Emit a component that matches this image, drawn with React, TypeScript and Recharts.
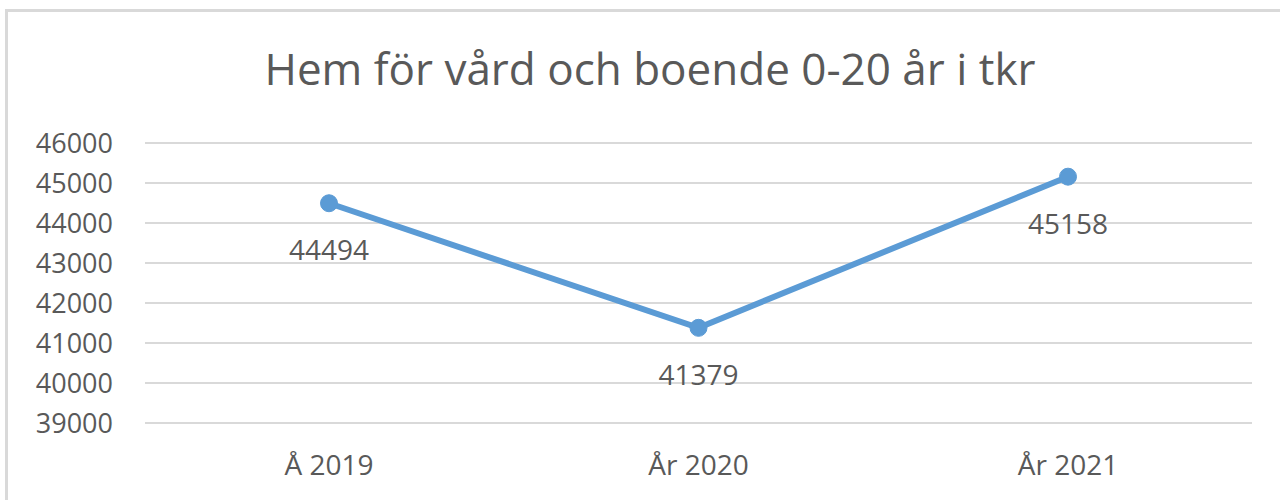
import React from "react";
import { LineChart, Line, XAxis, YAxis, CartesianGrid, LabelList } from "recharts";

const categories = ["Å 2019", "År 2020", "År 2021"];
const values = [44494, 41379, 45158];
const yTicks = [39000, 40000, 41000, 42000, 43000, 44000, 45000, 46000];
const title = "Hem för vård och boende 0-20 år i tkr";

const data = categories.map((c, i) => ({ name: c, value: values[i] }));

const FONT = "'Open Sans', 'Noto Sans', sans-serif";
const TEXT = "#595959";

export default function App() {
  return (
    <div style={{ position: "absolute", left: 0, top: 0, width: 1280, height: 500, background: "#fff", overflow: "hidden" }}>
      <div style={{ position: "absolute", left: 5, top: 9, width: 1300, height: 520, borderLeft: "3px solid #D9D9D9", borderTop: "3px solid #D9D9D9", boxSizing: "border-box" }} />
      <div style={{ position: "absolute", left: 0, top: 38, width: 1300, textAlign: "center", fontFamily: FONT, fontSize: 44, color: TEXT, lineHeight: "60px" }}>
        {title}
      </div>
      <div style={{ position: "absolute", left: 0, top: 0 }}>
        <LineChart width={1280} height={500} data={data} margin={{ top: 143, right: 28, bottom: 0, left: 45 }}>
          <CartesianGrid vertical={false} stroke="#D9D9D9" strokeWidth={2} />
          <XAxis
            dataKey="name"
            height={77}
            padding={{ left: 184, right: 184 }}
            axisLine={false}
            tickLine={false}
            tickSize={0}
            tickMargin={32}
            tick={{ fill: TEXT, fontSize: 28, fontFamily: FONT }}
          />
          <YAxis
            width={100}
            domain={[39000, 46000]}
            ticks={yTicks}
            axisLine={false}
            tickLine={false}
            tickSize={0}
            tickMargin={32}
            interval={0}
            tick={{ fill: TEXT, fontSize: 27, fontFamily: FONT }}
          />
          <Line
            type="linear"
            dataKey="value"
            stroke="#5B9BD5"
            strokeWidth={6}
            dot={{ r: 8.5, fill: "#5B9BD5", stroke: "#5B9BD5", strokeWidth: 1 }}
            isAnimationActive={false}
          >
            <LabelList dataKey="value" position="bottom" offset={37} fill={TEXT} fontSize={28} fontFamily={FONT} />
          </Line>
        </LineChart>
      </div>
    </div>
  );
}
